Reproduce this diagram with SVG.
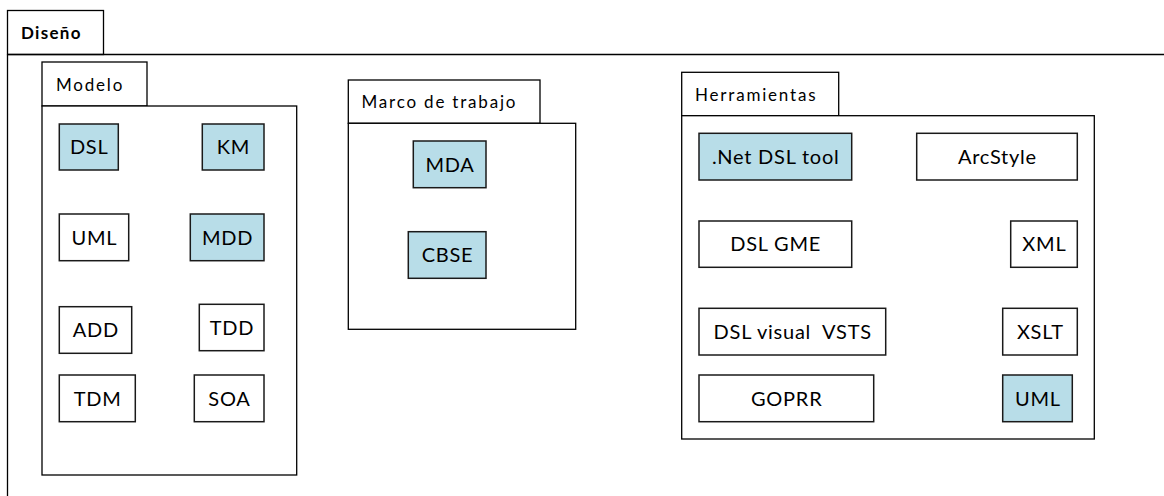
<svg xmlns="http://www.w3.org/2000/svg" width="1164" height="496" viewBox="0 0 1164 496">
<style>
.frame{fill:#fff;stroke:#000;stroke-width:1.3}
.node{fill:#fff;stroke:#1a1a1a;stroke-width:1.5}
.blue{fill:#b8dde8}
.lbl{font-family:Lato,"Liberation Sans",sans-serif;font-size:17px;fill:#000;letter-spacing:1.8px}
.bold{font-weight:bold;letter-spacing:1.3px}
.t{font-family:Lato,"Liberation Sans",sans-serif;font-size:20px;fill:#000;text-anchor:middle;white-space:pre;letter-spacing:0.75px}
</style>
<rect width="1164" height="496" fill="#fff"/>
<g id="diseno">
<rect class="frame" x="7.5" y="10.5" width="96" height="44"/>
<path d="M7.5 54.5 H1164 M7.5 54.5 V496" fill="none" stroke="#000" stroke-width="1.3"/>
<text class="lbl bold" x="21" y="39">Diseño</text>
</g>
<g id="modelo">
<rect class="frame" x="42" y="62" width="105" height="44"/>
<rect class="frame" x="42" y="106" width="254.7" height="369"/>
<text class="lbl" x="56" y="90.5">Modelo</text>
</g>
<g id="marco">
<rect class="frame" x="348.3" y="80" width="191.7" height="43.3"/>
<rect class="frame" x="348.3" y="123.3" width="227.4" height="206"/>
<text class="lbl" x="361.5" y="107.5">Marco de trabajo</text>
</g>
<g id="herramientas">
<rect class="frame" x="681.7" y="72.3" width="157" height="43.4"/>
<rect class="frame" x="681.7" y="115.7" width="412.6" height="323.3"/>
<text class="lbl" x="695" y="100.7">Herramientas</text>
</g>
<g id="n-dsl"><rect class="node blue" x="59.3" y="124" width="59" height="46"/><text class="t" x="89.2" y="154">DSL</text></g>
<g id="n-km"><rect class="node blue" x="202.3" y="124" width="61.7" height="46"/><text class="t" x="233.4" y="154">KM</text></g>
<g id="n-uml1"><rect class="node" x="59.3" y="214" width="69.4" height="46.7"/><text class="t" x="94.4" y="244.5">UML</text></g>
<g id="n-mdd"><rect class="node blue" x="190.3" y="214" width="73.7" height="46.7"/><text class="t" x="227.6" y="244.5">MDD</text></g>
<g id="n-add"><rect class="node" x="59.3" y="306.7" width="72.4" height="46.6"/><text class="t" x="95.9" y="337.3">ADD</text></g>
<g id="n-tdd"><rect class="node" x="199.3" y="304.3" width="64.7" height="46.4"/><text class="t" x="232" y="334.5">TDD</text></g>
<g id="n-tdm"><rect class="node" x="59.3" y="375" width="76" height="46.7"/><text class="t" x="97.7" y="405.5">TDM</text></g>
<g id="n-soa"><rect class="node" x="194.3" y="375" width="69.7" height="46.7"/><text class="t" x="229.5" y="405.5">SOA</text></g>
<g id="n-mda"><rect class="node blue" x="413.3" y="141" width="72.7" height="46.7"/><text class="t" x="450" y="171.5">MDA</text></g>
<g id="n-cbse"><rect class="node blue" x="408.3" y="231.7" width="77.7" height="46.6"/><text class="t" x="447.6" y="262.3">CBSE</text></g>
<g id="n-net"><rect class="node blue" x="699" y="133.3" width="152.7" height="46.7"/><text class="t" x="775.7" y="163.8">.Net DSL tool</text></g>
<g id="n-arc"><rect class="node" x="916.7" y="133.3" width="160.6" height="46.7"/><text class="t" x="997.4" y="163.8">ArcStyle</text></g>
<g id="n-gme"><rect class="node" x="699" y="221" width="152.7" height="46.3"/><text class="t" x="775.7" y="251.3">DSL GME</text></g>
<g id="n-xml"><rect class="node" x="1010.7" y="221" width="66.6" height="46.3"/><text class="t" x="1044.4" y="251.3">XML</text></g>
<g id="n-vsts"><rect class="node" x="699" y="308.3" width="186.7" height="46.7"/><text class="t" x="792.7" y="338.8">DSL visual  VSTS</text></g>
<g id="n-xslt"><rect class="node" x="1002.7" y="308.3" width="74.6" height="46.7"/><text class="t" x="1040.4" y="338.8">XSLT</text></g>
<g id="n-goprr"><rect class="node" x="699" y="375" width="174.7" height="46.7"/><text class="t" x="786.7" y="405.5">GOPRR</text></g>
<g id="n-uml2"><rect class="node blue" x="1002.7" y="375" width="69.6" height="46.7"/><text class="t" x="1037.9" y="405.5">UML</text></g>
<g id="connectors"></g>
</svg>
